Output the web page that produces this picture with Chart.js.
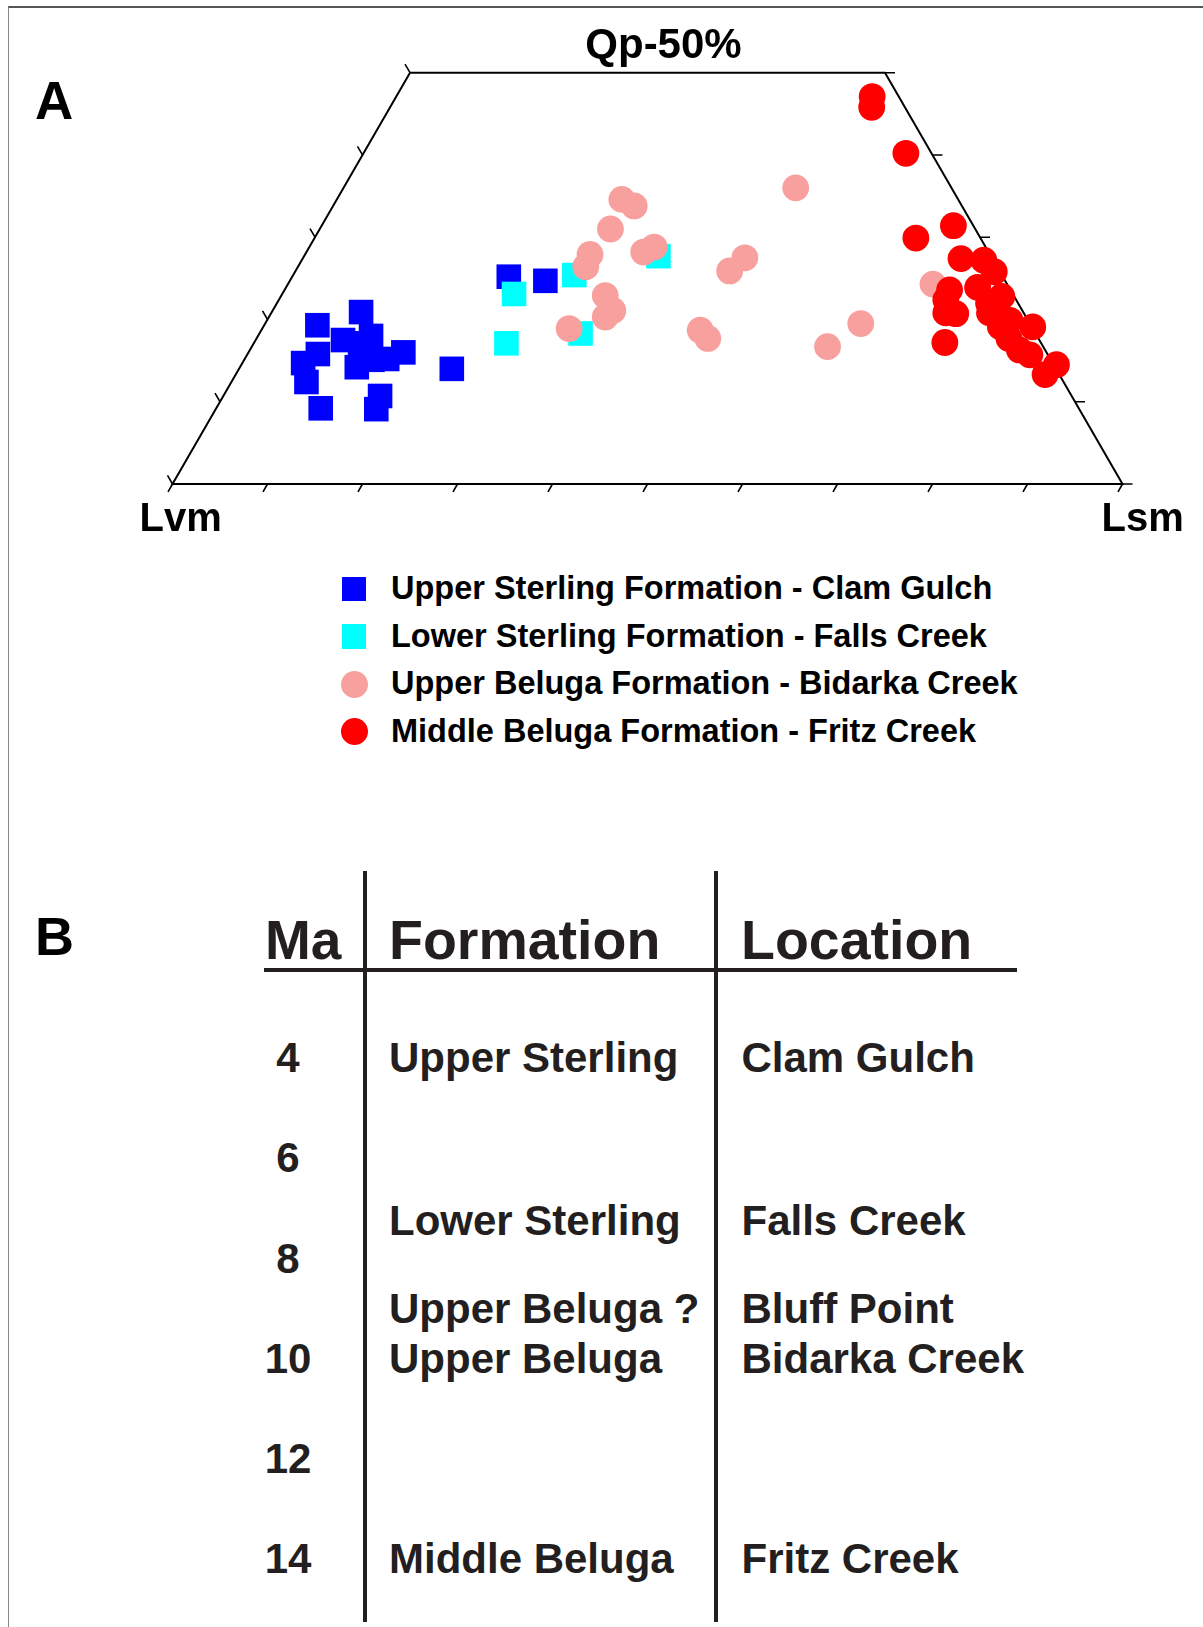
<!DOCTYPE html>
<html>
<head>
<meta charset="utf-8">
<script src="https://cdn.jsdelivr.net/npm/chart.js@4.4.0/dist/chart.umd.min.js"></script>
<style>
  html, body { margin: 0; padding: 0; background: #fff; }
  #page { position: relative; width: 1203px; height: 1627px; overflow: hidden;
          font-family: "Liberation Sans", Arial, sans-serif; font-weight: bold; }
  #frame { position: absolute; left: 8px; top: 6px; width: 1195px; height: 1621px;
           border-top: 2px solid #555; border-left: 1px solid #888; }
  #tern { position: absolute; left: 0; top: 0; }
  .t { position: absolute; white-space: nowrap; line-height: 1; }
  .rule { position: absolute; background: #231f20; }
  .mk { position: absolute; }
</style>
</head>
<body>
<div id="page">
  <div id="frame"></div>
  <canvas id="tern" width="1203" height="545"></canvas>
</div>
<script>
// point compositions in percent: Qp and Lsm (Lvm = 100 - Qp - Lsm)
const seriesNames = [
  'Upper Sterling Formation - Clam Gulch',
  'Lower Sterling Formation - Falls Creek',
  'Upper Beluga Formation - Bidarka Creek',
  'Middle Beluga Formation - Fritz Creek'
];
const seriesColors = ['#0000ff', '#00ffff', '#f8a09e', '#ff0000'];
const seriesShapes = ['rect', 'rect', 'circle', 'circle'];

const clamGulchQp  = [19.3, 20.9, 17.5, 18.0, 15.8, 14.7, 12.4, 14.2, 15.1, 15.2, 16.0, 14.0, 9.2, 10.7, 9.1, 25.2, 24.7, 17.1];
const clamGulchLsm = [5.6, 9.4, 9.2, 11.9, 7.4, 6.4, 7.9, 12.3, 13.5, 15.0, 16.3, 22.4, 11.0, 16.5, 16.9, 22.8, 26.9, 11.2];

const fallsCreekQp  = [23.1, 25.4, 17.1, 18.3, 27.7];
const fallsCreekLsm = [24.4, 29.6, 26.6, 33.8, 37.3];

const bidarkaQp  = [34.6, 33.8, 31.0, 27.9, 26.4, 22.9, 21.1, 20.3, 18.9, 28.2, 28.8, 36.0, 27.5, 25.9, 18.7, 17.7, 19.5, 16.7, 24.3];
const bidarkaLsm = [30.0, 31.7, 30.6, 30.0, 30.3, 34.1, 35.8, 35.4, 32.3, 35.5, 36.3, 47.6, 46.5, 45.7, 46.2, 47.5, 62.7, 60.6, 67.9];

const fritzQp  = [47.1, 45.8, 40.2, 31.4, 29.9, 27.4, 27.2, 25.8, 23.6, 23.9, 22.8, 22.0, 22.4, 20.8, 20.7, 19.1, 19.9, 19.1, 17.7, 16.3, 15.7, 14.5, 13.3, 17.2, 20.8];
const fritzLsm = [50.1, 50.7, 57.1, 66.5, 63.3, 69.3, 71.8, 73.6, 70.0, 72.8, 75.9, 74.9, 70.2, 71.0, 72.1, 77.6, 78.2, 81.0, 79.2, 81.0, 82.4, 85.8, 85.2, 72.7, 75.6];

// ternary axis ticks
const qpTicks = [0, 10, 20, 30, 40, 50];
const lsmTicks = [0, 10, 20, 30, 40, 50, 60, 70, 80, 90, 100];

// panel B
const maTicks = [4, 6, 8, 10, 12, 14];
const formations = ['Upper Sterling', 'Lower Sterling', 'Upper Beluga ?', 'Upper Beluga', 'Middle Beluga'];
const locations = ['Clam Gulch', 'Falls Creek', 'Bluff Point', 'Bidarka Creek', 'Fritz Creek'];
const formationAges = [4, 7.25, 9.0, 10, 14];

const FONT = '"Liberation Sans", Arial, sans-serif';
const page = document.getElementById('page');

// ternary -> plot coords (x along Lvm-Lsm base, y = Qp)
function toXY(qp, lsm) {
  return qp.map((q, i) => ({ x: lsm[i] + q / 2, y: q }));
}

const ternaryFrame = {
  id: 'ternaryFrame',
  beforeDatasetsDraw(chart) {
    const { ctx, scales: { x, y } } = chart;
    const P = (qp, lsm) => [x.getPixelForValue(lsm + qp / 2), y.getPixelForValue(qp)];
    const bl = P(0, 0), tl = P(50, 0), tr = P(50, 50), br = P(0, 100);

    ctx.save();
    ctx.strokeStyle = '#000';
    ctx.lineWidth = 2;
    ctx.beginPath();
    ctx.moveTo(bl[0], bl[1]);
    ctx.lineTo(tl[0], tl[1]);
    ctx.lineTo(tr[0], tr[1]);
    ctx.lineTo(br[0], br[1]);
    ctx.closePath();
    ctx.stroke();

    // unit vectors along the sides
    const len = (a, b) => Math.hypot(b[0] - a[0], b[1] - a[1]);
    const leftDir = [(bl[0] - tl[0]) / len(tl, bl), (bl[1] - tl[1]) / len(tl, bl)];   // down-left
    const rightUp = [(tr[0] - br[0]) / len(br, tr), (tr[1] - br[1]) / len(br, tr)];  // up-left

    ctx.lineWidth = 1.6;
    ctx.beginPath();
    lsmTicks.forEach(l => {
      const p = P(0, l);
      ctx.moveTo(p[0], p[1]);
      ctx.lineTo(p[0] + leftDir[0] * 9, p[1] + leftDir[1] * 9);
    });
    qpTicks.forEach(q => {
      const p = P(q, 0);
      ctx.moveTo(p[0], p[1]);
      ctx.lineTo(p[0] + rightUp[0] * 10, p[1] + rightUp[1] * 10);
      const r = P(q, 100 - q);
      ctx.moveTo(r[0], r[1]);
      ctx.lineTo(r[0] + 10, r[1]);
    });
    ctx.stroke();

    ctx.fillStyle = '#000';
    ctx.textBaseline = 'alphabetic';
    ctx.font = 'bold 42px ' + FONT;
    ctx.textAlign = 'center';
    ctx.fillText('Qp-50%', (tl[0] + tr[0]) / 2 + 16, 58);
    ctx.font = 'bold 40px ' + FONT;
    ctx.textAlign = 'left';
    ctx.fillText('Lvm', bl[0] - 33, 531);
    ctx.fillText('Lsm', br[0] - 21, 531);
    ctx.restore();
  }
};

const seriesData = [
  toXY(clamGulchQp, clamGulchLsm),
  toXY(fallsCreekQp, fallsCreekLsm),
  toXY(bidarkaQp, bidarkaLsm),
  toXY(fritzQp, fritzLsm)
];

const chart = new Chart(document.getElementById('tern'), {
  type: 'scatter',
  data: {
    datasets: seriesData.map((d, i) => ({
      label: seriesNames[i],
      data: d,
      pointStyle: seriesShapes[i],
      pointRadius: seriesShapes[i] === 'rect' ? 17.4 : 13.4,
      pointBackgroundColor: seriesColors[i],
      pointBorderColor: seriesColors[i],
      pointBorderWidth: 0,
      order: 4 - i,
      clip: false
    }))
  },
  options: {
    responsive: false,
    animation: false,
    events: [],
    layout: { padding: { left: 172.5, right: 80.5, top: 72.7, bottom: 61 } },
    scales: {
      x: { type: 'linear', min: 0, max: 100, display: false },
      y: { type: 'linear', min: 0, max: 50, display: false }
    },
    plugins: { legend: { display: false }, tooltip: { enabled: false } }
  },
  plugins: [ternaryFrame]
});

// text helper: left/center at x, baseline at y
function place(text, x, baseline, size, align, color) {
  const el = document.createElement('div');
  el.className = 't';
  el.textContent = text;
  el.style.fontSize = size + 'px';
  el.style.color = color || '#000';
  el.style.top = (baseline - 0.8465 * size) + 'px';
  if (align === 'center') {
    el.style.left = (x - 150) + 'px';
    el.style.width = '300px';
    el.style.textAlign = 'center';
  } else {
    el.style.left = x + 'px';
  }
  page.appendChild(el);
}
function rule(left, top, w, h) {
  const el = document.createElement('div');
  el.className = 'rule';
  Object.assign(el.style, { left: left + 'px', top: top + 'px', width: w + 'px', height: h + 'px' });
  page.appendChild(el);
}

// panel letters
place('A', 35, 119, 53);
place('B', 35, 955, 54);

// legend
seriesNames.forEach((name, i) => {
  const cy = 589 + i * 47.5;
  const mk = document.createElement('div');
  mk.className = 'mk';
  const s = seriesShapes[i] === 'rect' ? 24.5 : 27;
  Object.assign(mk.style, {
    left: (354 - s / 2) + 'px', top: (cy - s / 2) + 'px',
    width: s + 'px', height: s + 'px', background: seriesColors[i],
    borderRadius: seriesShapes[i] === 'circle' ? '50%' : '0'
  });
  page.appendChild(mk);
  place(name, 391, cy + 11, 32.5);
});

// panel B table
const ink = '#231f20';
rule(363, 871, 4, 751);
rule(713.5, 871, 4, 751);
rule(264, 967.5, 753, 4);
place('Ma', 265, 960, 55, 'left', ink);
place('Formation', 389, 960, 55.5, 'left', ink);
place('Location', 741, 960, 55.5, 'left', ink);

const ageY = a => 1057.5 + (a - 4) * 50.15;
maTicks.forEach(m => place(String(m), 288, ageY(m) + 15, 42, 'center', ink));
formations.forEach((f, i) => {
  place(f, 389, ageY(formationAges[i]) + 15, 42, 'left', ink);
  place(locations[i], 741.5, ageY(formationAges[i]) + 15, 42, 'left', ink);
});
</script>
</body>
</html>
